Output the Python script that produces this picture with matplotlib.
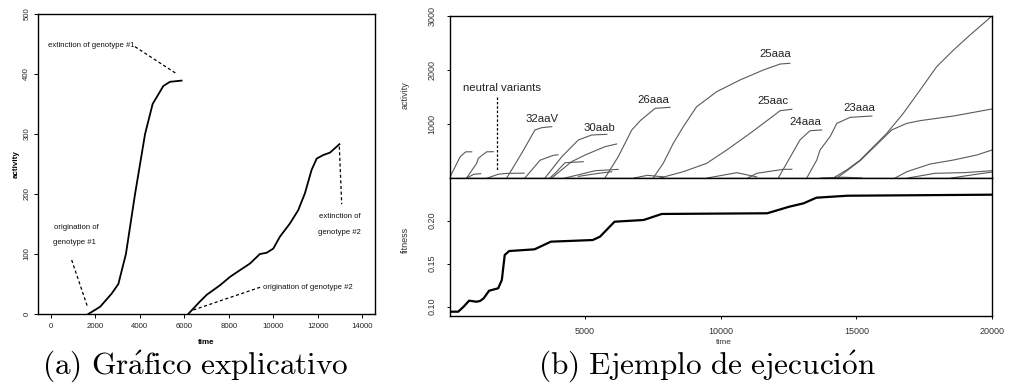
import matplotlib
matplotlib.use('Agg')
import matplotlib.pyplot as plt

plt.rcParams['mathtext.fontset'] = 'cm'

# ---------------- data: panel (a) ----------------
geno1_time = [1690, 2220, 2740, 3040, 3380, 3790, 4240, 4580, 5060, 5360, 5880]
geno1_act = [0, 12, 34, 50, 100, 200, 300, 350, 380, 387, 389]
geno2_time = [6180, 6710, 7010, 7310, 7610, 8060, 8500, 8950, 9400, 9700, 10000,
              10300, 10750, 11120, 11420, 11720, 11950, 12250, 12550, 12850, 12970]
geno2_act = [0, 21, 32, 40, 48, 62, 73, 84, 100, 102, 109,
             129, 151, 173, 201, 240, 259, 265, 269, 279, 283]
a_xticks = [0, 2000, 4000, 6000, 8000, 10000, 12000, 14000]
a_yticks = [0, 100, 200, 300, 400, 500]

# ---------------- data: panel (b) activity ----------------
v_a_t = [0, 390, 600, 820];                 v_a = [0, 390, 485, 485]
v_b_t = [630, 1000, 1060, 1370, 1615];      v_b = [0, 270, 365, 485, 487]
v_n1_t = [1400, 1800, 2100, 2750];          v_n1 = [0, 70, 85, 90]
v_n2_t = [640, 900, 1150];                  v_n2 = [0, 70, 80]
v_32aaV_t = [2110, 2660, 3150, 3400, 3770]; v_32aaV = [0, 457, 889, 932, 951]
v_d_t = [2780, 3340, 3830, 4000];           v_d = [0, 330, 420, 430]
v_30aab_t = [3520, 4140, 4750, 5240, 5800]; v_30aab = [0, 394, 704, 796, 809]
v_e_t = [3770, 4500, 5000, 5730, 6160];     v_e = [0, 302, 426, 580, 630]
v_f_t = [3700, 3890, 4260, 4930];           v_f = [0, 87, 283, 302]
v_g_t = [4260, 5370, 6220];                 v_g = [0, 135, 160]
v_h_t = [4750, 5400, 5980];                 v_h = [30, 80, 117]
v_26aaa_t = [5730, 6220, 6720, 7050, 7580, 8130]
v_26aaa = [0, 394, 889, 1070, 1290, 1309]
v_i_t = [6800, 7300, 7900];                 v_i = [0, 50, 20]
v_25aaa_t = [7510, 7880, 8250, 8620, 9110, 9850, 10710, 11570, 12190, 12550]
v_25aaa = [0, 272, 642, 950, 1320, 1598, 1815, 2000, 2111, 2124]
v_25aac_t = [7760, 8620, 9480, 10220, 11080, 11820, 12190, 12620]
v_25aac = [0, 117, 272, 518, 827, 1105, 1247, 1272]
v_j_t = [9500, 10590, 11330];               v_j = [0, 98, 20]
v_k_t = [11000, 11330, 12310, 12620];       v_k = [0, 87, 161, 161]
v_24aaa_t = [12120, 12430, 12920, 13290, 13720]
v_24aaa = [0, 272, 704, 876, 889]
v_23aaa_t = [13170, 13540, 13660, 14030, 14280, 14770, 15570]
v_23aaa = [0, 333, 518, 766, 1012, 1123, 1148]
v_big_t = [14150, 14640, 15140, 15630, 16120, 16730, 17350, 17960, 18580, 19190, 20000]
v_big = [0, 148, 333, 580, 827, 1198, 1630, 2061, 2370, 2648, 3000]
v_sec_t = [14280, 14640, 15140, 15630, 16300, 16860, 17350, 18580, 20000]
v_sec = [0, 130, 320, 560, 889, 1012, 1062, 1148, 1278]
v_thr_t = [16430, 16860, 17720, 18580, 19440, 20000]
v_thr = [0, 117, 259, 333, 426, 518]
v_l1_t = [16900, 17900, 19000, 20000];      v_l1 = [0, 87, 100, 135]
v_l2_t = [18500, 19300, 20000];             v_l2 = [0, 60, 110]
v_l3_t = [13700, 14500, 15200];             v_l3 = [0, 15, 0]

variants = [(v_a_t, v_a), (v_b_t, v_b), (v_n1_t, v_n1), (v_n2_t, v_n2),
            (v_32aaV_t, v_32aaV), (v_d_t, v_d), (v_30aab_t, v_30aab),
            (v_e_t, v_e), (v_f_t, v_f), (v_g_t, v_g), (v_h_t, v_h),
            (v_26aaa_t, v_26aaa), (v_i_t, v_i), (v_25aaa_t, v_25aaa),
            (v_25aac_t, v_25aac), (v_j_t, v_j), (v_k_t, v_k),
            (v_24aaa_t, v_24aaa), (v_23aaa_t, v_23aaa), (v_big_t, v_big),
            (v_sec_t, v_sec), (v_thr_t, v_thr), (v_l1_t, v_l1),
            (v_l2_t, v_l2), (v_l3_t, v_l3)]

labels_text = ['32aaV', '30aab', '26aaa', '25aaa', '25aac', '24aaa', '23aaa']
labels_t = [3400, 5510, 7500, 12000, 11920, 13100, 15120]
labels_act = [1087, 920, 1444, 2296, 1426, 1043, 1291]

# ---------------- data: panel (b) fitness ----------------
fit_time = [0, 320, 520, 722, 991, 1124, 1258, 1460, 1795, 1929, 2036, 2197,
            3134, 3739, 5280, 5549, 6084, 7157, 7827, 11714, 12521, 13056,
            13524, 14663, 20000]
fit_val = [0.0940, 0.0940, 0.0998, 0.1068, 0.1056, 0.1064, 0.1095, 0.1184,
           0.1212, 0.1308, 0.1599, 0.1645, 0.1665, 0.1754, 0.1773, 0.1812,
           0.1986, 0.2006, 0.2076, 0.2084, 0.2160, 0.2200, 0.2265, 0.2288,
           0.2300]
b_xticks = [5000, 10000, 15000, 20000]
act_yticks = [1000, 2000, 3000]
fit_yticks = [0.10, 0.15, 0.20]

# ---------------- figure ----------------
W, H = 1010, 383
fig = plt.figure(figsize=(W / 100, H / 100), dpi=100)


def box(x0, y0, x1, y1):
    return [x0 / W, 1 - y1 / H, (x1 - x0) / W, (y1 - y0) / H]


NARROW = ['Liberation Sans Narrow', 'Liberation Sans', 'DejaVu Sans']
SANS = ['Liberation Sans', 'DejaVu Sans']

# ---- panel (a)
axL = fig.add_axes(box(38, 14, 375, 314))
axL.plot(geno1_time, geno1_act, color='black', lw=1.3)
axL.plot(geno2_time, geno2_act, color='black', lw=1.3)
axL.set_xlim(-570, 14570)
axL.set_ylim(0, 500)
axL.set_xticks(a_xticks)
axL.set_yticks(a_yticks)
axL.set_xticklabels([str(v) for v in a_xticks], family=NARROW, fontsize=5.6, color='#222222')
axL.set_yticklabels([str(v) for v in a_yticks], family=NARROW, fontsize=5.6,
                    rotation=90, va='center', color='#222222')
axL.tick_params(axis='x', length=3, width=0.7, pad=3.5)
axL.tick_params(axis='y', length=3, width=0.7, pad=2.5)
for s in axL.spines.values():
    s.set_linewidth(1.0)

dash = dict(color='black', lw=0.9, ls=(0, (2.5, 2)))
axL.plot([3788, 5630], [445.5, 401], **dash)
axL.plot([943, 1645], [90, 13], **dash)
axL.plot([12967, 13074], [279, 183], **dash)
axL.plot([6407, 9404], [6.7, 44.5], **dash)
ann = dict(family=NARROW, fontsize=5.6, color='#111111', va='center')
axL.text(1842, 446.7, 'extinction of genotype #1', ha='center', **ann)
axL.text(1137, 144.5, 'origination of', ha='center', **ann)
axL.text(1047, 118.8, 'genotype #1', ha='center', **ann)
axL.text(12998, 162.2, 'extinction of', ha='center', **ann)
axL.text(12953, 135.5, 'genotype #2', ha='center', **ann)
axL.text(11574, 44.5, 'origination of genotype #2', ha='center', **ann)

fig.text(16.7 / W, 1 - 164 / H, 'activity', rotation=90, ha='center', va='center',
         family=NARROW, fontsize=5.8, fontweight='bold')
fig.text(206.5 / W, 1 - 342 / H, 'time', ha='center', va='center',
         family=NARROW, fontsize=5.8, fontweight='bold')

# ---- panel (b) activity
axA = fig.add_axes(box(449.5, 16, 992, 178))
for t, a in variants:
    axA.plot(t, a, color='#5a5a5a', lw=0.8)
axA.set_xlim(0, 20000)
axA.set_ylim(0, 3000)
axA.set_xticks([])
axA.set_yticks(act_yticks)
axA.set_yticklabels([str(v) for v in act_yticks], family=SANS, fontsize=6.5,
                    rotation=90, va='center', color='#333333')
axA.tick_params(axis='y', length=2.5, width=0.7, pad=7)
for s in axA.spines.values():
    s.set_linewidth(1.0)
for txt, t, a in zip(labels_text, labels_t, labels_act):
    axA.text(t, a, txt, ha='center', va='center', family=SANS, fontsize=8.2,
             color='#222222')
axA.text(1925, 1661, 'neutral variants', ha='center', va='center', family=SANS,
         fontsize=8.2, color='#222222')
axA.plot([1740, 1740], [1495, 148], color='black', lw=0.9, ls=(0, (2, 1.5)))

# ---- panel (b) fitness
axF = fig.add_axes(box(449.5, 178, 992, 316))
axF.plot(fit_time, fit_val, color='black', lw=1.6)
axF.set_xlim(0, 20000)
axF.set_ylim(0.089, 0.2494)
axF.set_xticks(b_xticks)
axF.set_xticklabels([str(v) for v in b_xticks], family=SANS, fontsize=6.5, color='#333333')
axF.set_yticks(fit_yticks)
axF.set_yticklabels(['0.10', '0.15', '0.20'], family=SANS, fontsize=6.5,
                    rotation=90, va='center', color='#333333')
axF.tick_params(axis='x', length=2, width=0.7, pad=6)
axF.tick_params(axis='y', length=2.5, width=0.7, pad=7)
for s in axF.spines.values():
    s.set_linewidth(1.0)

fig.text(405 / W, 1 - 95 / H, 'activity', rotation=90, ha='center', va='center',
         family=SANS, fontsize=6.5, color='#333333')
fig.text(405 / W, 1 - 240 / H, 'fitness', rotation=90, ha='center', va='center',
         family=SANS, fontsize=6.5, color='#333333')
fig.text(724 / W, 1 - 343 / H, 'time', ha='center', va='center',
         family=SANS, fontsize=6.0, color='#333333')

# ---- captions
fig.text(195 / W, 1 - 366 / H, r'$\mathrm{(a)\ Gr\acute{a}fico\ explicativo}$',
         ha='center', va='center', fontsize=22.5)
fig.text(707 / W, 1 - 366 / H, r'$\mathrm{(b)\ Ejemplo\ de\ ejecuci\acute{o}n}$',
         ha='center', va='center', fontsize=22.5)

fig.savefig('out.png', dpi=100)
